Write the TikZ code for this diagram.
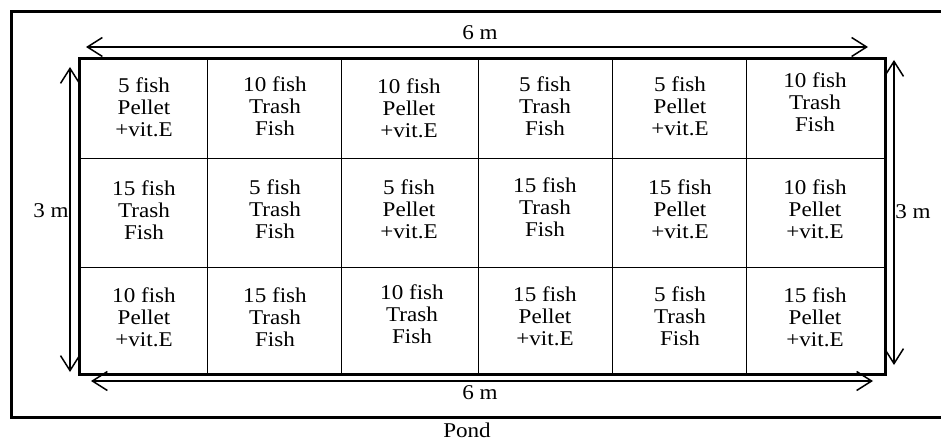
\documentclass[tikz,border=0pt]{standalone}
\usepackage{fontspec}
\usepackage{graphicx}
\setmainfont{Liberation Serif}
\usetikzlibrary{arrows.meta}
\newcommand{\wide}[1]{\scalebox{1.1}[1]{#1}}
\newcommand{\three}[3]{\wide{\begin{tabular}{@{}c@{}}#1\\#2\\#3\end{tabular}}}
\begin{document}
\begin{tikzpicture}[x=1pt,y=-1pt,
  thick border/.style={line width=3pt},
  thin grid/.style={line width=1pt},
  dimarrow/.style={line width=1.5pt,{Straight Barb[length=15pt,width=19pt]}-{Straight Barb[length=15pt,width=19pt]}},
  cell/.style={align=center,inner sep=0pt,font=\fontsize{21}{22}\selectfont},
  lbl/.style={inner sep=0pt,font=\fontsize{21}{22}\selectfont}]
\useasboundingbox (0,0) rectangle (941,441);
\clip (0,0) rectangle (941,441);
% pond
\draw[thick border] (950,12) -- (11,12) -- (11,417) -- (950,417);
% grid
\draw[thin grid] (207,59) -- (207,374) (341,59) -- (341,374) (478,59) -- (478,374)
  (612,59) -- (612,374) (746,59) -- (746,374) (79,158) -- (885,158) (79,267) -- (885,267);
\draw[thick border] (79,59) rectangle (885,374);
% dimension arrow ends
\coordinate (tl) at (86,47); \coordinate (tr) at (868,47);
\coordinate (bl) at (91,381); \coordinate (br) at (873,381);
\coordinate (lt) at (70,67); \coordinate (lb) at (70,372);
\coordinate (rt) at (894,60); \coordinate (rb) at (894,365);
\draw[dimarrow] (tl) -- (tr);
\draw[dimarrow] (bl) -- (br);
\draw[dimarrow] (lt) -- (lb);
\draw[dimarrow] (rt) -- (rb);
% labels
\node[lbl] (top6) at (480,33) {\wide{6 m}};
\node[lbl] (bot6) at (480,393) {\wide{6 m}};
\node[lbl] (left3) at (51,211) {\wide{3 m}};
\node[lbl] (right3) at (913,212) {\wide{3 m}};
\node[lbl] (pond) at (467,430) {\wide{Pond}};
% row 1
\node[cell] (c11) at (144,110) {\three{5 fish}{Pellet}{+vit.E}};
\node[cell] (c12) at (275,109) {\three{10 fish}{Trash}{Fish}};
\node[cell] (c13) at (409,111) {\three{10 fish}{Pellet}{+vit.E}};
\node[cell] (c14) at (545,109) {\three{5 fish}{Trash}{Fish}};
\node[cell] (c15) at (680,109) {\three{5 fish}{Pellet}{+vit.E}};
\node[cell] (c16) at (815,105) {\three{10 fish}{Trash}{Fish}};
% row 2
\node[cell] (c21) at (144,213) {\three{15 fish}{Trash}{Fish}};
\node[cell] (c22) at (275,212) {\three{5 fish}{Trash}{Fish}};
\node[cell] (c23) at (409,212) {\three{5 fish}{Pellet}{+vit.E}};
\node[cell] (c24) at (545,210) {\three{15 fish}{Trash}{Fish}};
\node[cell] (c25) at (680,212) {\three{15 fish}{Pellet}{+vit.E}};
\node[cell] (c26) at (815,212) {\three{10 fish}{Pellet}{+vit.E}};
% row 3
\node[cell] (c31) at (144,320) {\three{10 fish}{Pellet}{+vit.E}};
\node[cell] (c32) at (275,320) {\three{15 fish}{Trash}{Fish}};
\node[cell] (c33) at (412,317) {\three{10 fish}{Trash}{Fish}};
\node[cell] (c34) at (545,319) {\three{15 fish}{Pellet}{+vit.E}};
\node[cell] (c35) at (680,319) {\three{5 fish}{Trash}{Fish}};
\node[cell] (c36) at (815,320) {\three{15 fish}{Pellet}{+vit.E}};
\end{tikzpicture}
\end{document}
